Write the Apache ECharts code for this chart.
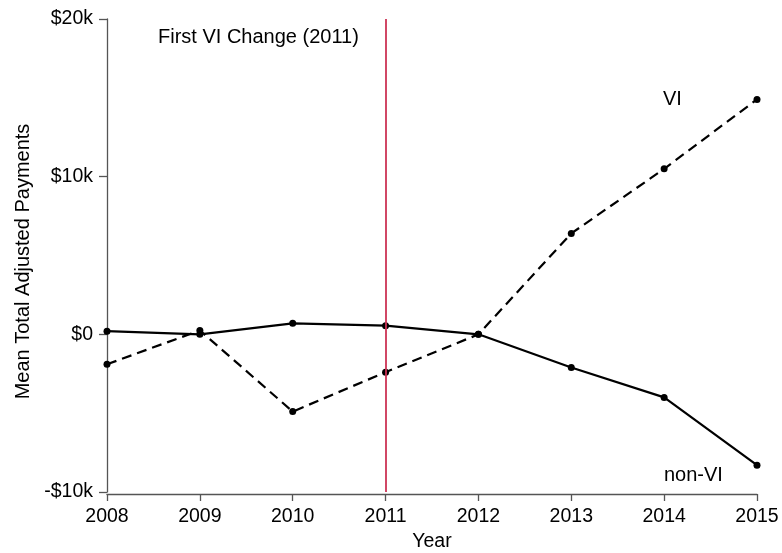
<!DOCTYPE html>
<html>
<head>
<meta charset="utf-8">
<script src="https://cdn.jsdelivr.net/npm/echarts@6/dist/echarts.min.js"></script>
<style>
  html, body { margin: 0; padding: 0; background: #fff; }
  #chart { width: 782px; height: 553px; }
</style>
</head>
<body>
<div id="chart"></div>
<script>
// Years on the x axis
const years = [2008, 2009, 2010, 2011, 2012, 2013, 2014, 2015];
// Mean total adjusted payments, in thousands of dollars
const viValues = [-1.9, 0.25, -4.9, -2.4, 0.0, 6.4, 10.5, 14.9];
const nonViValues = [0.2, 0.0, 0.7, 0.55, 0.0, -2.1, -4.0, -8.3];
// Y axis ticks (thousands) and their labels
const yTicks = [-10, 0, 10, 20];
const yTickLabels = ['-$10k', '$0', '$10k', '$20k'];
const changeYear = 2011;

const FONT = '"Liberation Sans", Arial, sans-serif';

const pairs = (vals) => years.map((y, i) => [y, vals[i]]);

const chart = echarts.init(document.getElementById('chart'), null, { renderer: 'canvas' });

chart.setOption({
  animation: false,
  backgroundColor: '#ffffff',
  grid: { left: 107, right: 25, top: 19, bottom: 61, containLabel: false, outerBoundsMode: 'none' },
  xAxis: {
    type: 'value',
    min: years[0],
    max: years[years.length - 1],
    interval: 1,
    offset: 2,
    name: 'Year',
    nameLocation: 'middle',
    nameGap: 37,
    nameTextStyle: { fontFamily: FONT, fontSize: 19.5, color: '#000' },
    axisLine: { show: true, onZero: false, lineStyle: { color: '#555', width: 1.3 } },
    axisTick: { show: true, inside: false, length: 7, lineStyle: { color: '#555', width: 1.3 } },
    axisLabel: { fontFamily: FONT, fontSize: 19.5, color: '#000', margin: 13,
                 formatter: (v) => String(v) },
    splitLine: { show: false }
  },
  yAxis: {
    type: 'value',
    min: yTicks[0],
    max: yTicks[yTicks.length - 1],
    interval: 10,
    name: 'Mean Total Adjusted Payments',
    nameLocation: 'middle',
    nameRotate: 90,
    nameGap: 73,
    nameTextStyle: { fontFamily: FONT, fontSize: 20, color: '#000', padding: [0, 12, 0, 0] },
    axisLine: { show: true, onZero: false, lineStyle: { color: '#555', width: 1.3 } },
    axisTick: { show: true, inside: false, length: 8, lineStyle: { color: '#555', width: 1.3 } },
    axisLabel: {
      fontFamily: FONT, fontSize: 19.5, color: '#000', margin: 14,
      formatter: (v) => yTickLabels[yTicks.indexOf(v)] ?? ''
    },
    splitLine: { show: false }
  },
  series: [
    {
      name: 'non-VI',
      type: 'line',
      data: pairs(nonViValues),
      symbol: 'circle',
      symbolSize: 7,
      itemStyle: { color: '#000' },
      lineStyle: { color: '#000', width: 2.2, type: 'solid' },
      z: 3,
      markLine: {
        silent: true,
        symbol: ['none', 'none'],
        label: { show: false },
        lineStyle: { color: '#cc3355', width: 1.8, type: 'solid' },
        data: [{ xAxis: changeYear }]
      }
    },
    {
      name: 'VI',
      type: 'line',
      data: pairs(viValues),
      symbol: 'circle',
      symbolSize: 7,
      itemStyle: { color: '#000' },
      lineStyle: { color: '#000', width: 2.2, type: [10, 6] },
      z: 3
    }
  ],
  graphic: [
    {
      type: 'text', left: 158, top: 27,
      style: { text: 'First VI Change (2011)', font: '20px ' + FONT, fill: '#000' }
    },
    {
      type: 'text', left: 663, top: 89,
      style: { text: 'VI', font: '20px ' + FONT, fill: '#000' }
    },
    {
      type: 'text', left: 664, top: 465,
      style: { text: 'non-VI', font: '20px ' + FONT, fill: '#000' }
    }
  ]
});
</script>
</body>
</html>
